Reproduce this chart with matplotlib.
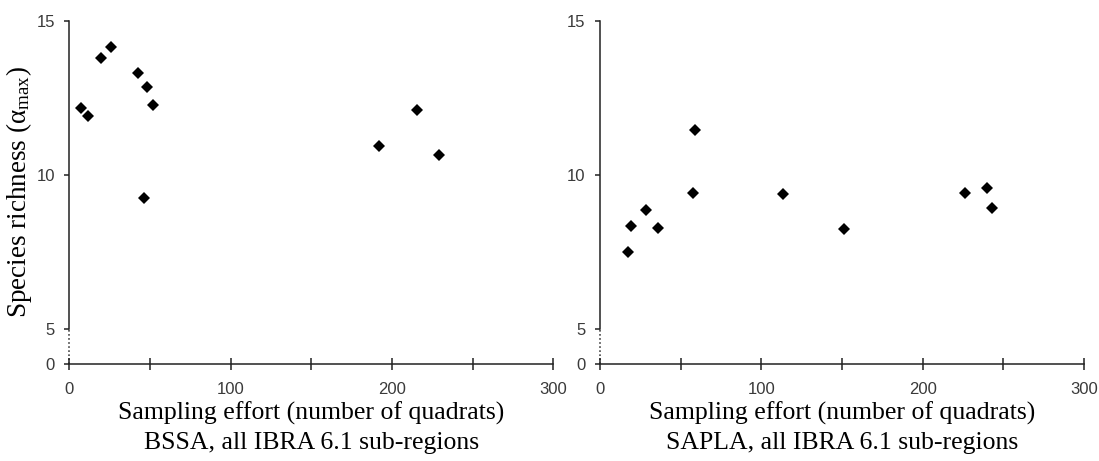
import numpy as np
import matplotlib
matplotlib.use("Agg")
import matplotlib.pyplot as plt
from matplotlib.ticker import FixedLocator, NullFormatter

# data
bssa_x = [7.1, 11.6, 19.8, 25.9, 42.8, 48.0, 51.7, 46.5, 192.0, 215.7, 229.4]
bssa_y = [12.17, 11.90, 13.79, 14.16, 13.30, 12.85, 12.27, 9.24, 10.94, 12.10, 10.64]

sapla_x = [17.2, 19.0, 28.5, 36.2, 57.5, 58.9, 113.2, 151.5, 225.9, 239.7, 243.2]
sapla_y = [7.50, 8.34, 8.87, 8.29, 9.41, 11.47, 9.38, 8.25, 9.41, 9.58, 8.92]

panels = [
    (bssa_x, bssa_y, "BSSA, all IBRA 6.1 sub-regions"),
    (sapla_x, sapla_y, "SAPLA, all IBRA 6.1 sub-regions"),
]
y_ticks = [0, 5, 10, 15]
x_major = [0, 100, 200, 300]
x_minor = [50, 150, 250]

# broken y axis: 0..5 squeezed
BREAK = 5.0
SQUEEZE = 0.226


def fwd(y):
    y = np.asarray(y, dtype=float)
    return np.where(y >= BREAK, y, BREAK - (BREAK - y) * SQUEEZE)


def inv(y):
    y = np.asarray(y, dtype=float)
    return np.where(y >= BREAK, y, BREAK - (BREAK - y) / SQUEEZE)


plt.rcParams['mathtext.fontset'] = 'custom'
plt.rcParams['mathtext.rm'] = 'Liberation Serif'
plt.rcParams['mathtext.it'] = 'Liberation Serif:italic'

fig = plt.figure(figsize=(10.99, 4.61), dpi=100)
ax_pos = [[0.0631, 0.2104, 0.4404, 0.7447], [0.5460, 0.2104, 0.4404, 0.7447]]
ink = '#222222'

for i, (xs, ys, title) in enumerate(panels):
    ax = fig.add_axes(ax_pos[i])
    ax.set_yscale('function', functions=(fwd, inv))
    ax.plot(xs, ys, 'D', color='black', ms=6.2, mew=0)
    ax.set_xlim(0, 300)
    ax.set_ylim(0, 15)
    ax.yaxis.set_major_locator(FixedLocator(y_ticks))
    ax.set_yticklabels([str(t) for t in y_ticks])
    ax.xaxis.set_major_locator(FixedLocator(x_major))
    ax.xaxis.set_minor_locator(FixedLocator(x_minor))
    ax.xaxis.set_minor_formatter(NullFormatter())
    for s in ['top', 'right']:
        ax.spines[s].set_visible(False)
    ax.spines['left'].set_bounds(5, 15)
    ax.spines['left'].set_color(ink)
    ax.spines['bottom'].set_color(ink)
    ax.spines['left'].set_linewidth(1.1)
    ax.spines['bottom'].set_linewidth(1.1)
    ax.plot([0, 0], [0, 5], ':', color=ink, lw=1.1, clip_on=False)
    ax.tick_params(axis='both', which='both', direction='out', length=3.5,
                   width=1.1, color=ink, labelsize=12, labelcolor='#3a3a3a')
    ax.tick_params(axis='y', pad=7)
    ax.tick_params(axis='x', which='both', direction='inout', length=8, pad=9)
    for lab in ax.get_xticklabels() + ax.get_yticklabels():
        lab.set_family('Liberation Sans')
    ax.set_xlabel("Sampling effort (number of quadrats)\n" + title,
                  family='Liberation Serif', fontsize=18.5, linespacing=1.45,
                  labelpad=3)
    if i == 0:
        ax.set_ylabel("Species richness ($\\mathrm{α}_{\\mathrm{max}}$)",
                      family='Liberation Serif', fontsize=19.5)
        ax.yaxis.set_label_coords(-0.072, 0.5)

fig.savefig('out.png', dpi=100)
